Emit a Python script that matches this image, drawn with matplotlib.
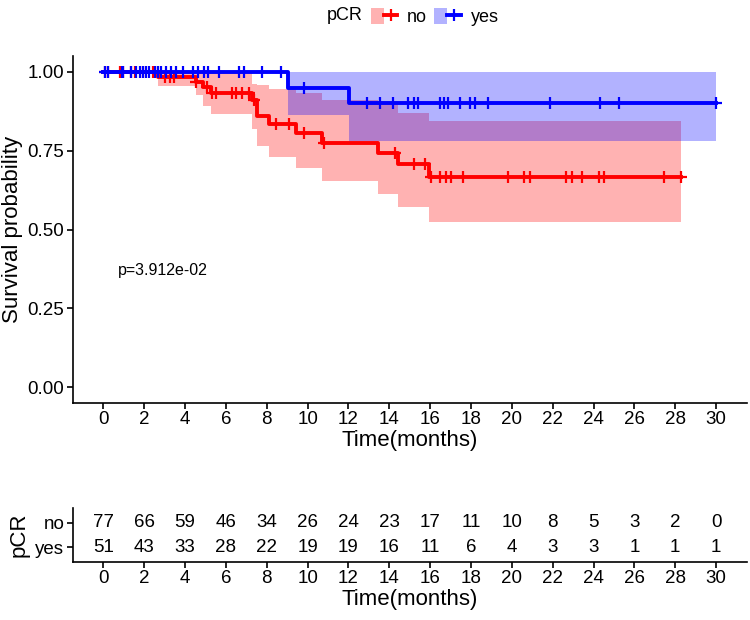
import numpy as np
import matplotlib
matplotlib.use("Agg")
import matplotlib.pyplot as plt
from matplotlib.patches import Patch
from matplotlib.lines import Line2D
from matplotlib.legend_handler import HandlerTuple

plt.rcParams['font.family'] = ['Liberation Sans', 'DejaVu Sans']

# pCR = no : event times, KM estimate and 95% band
t_no = [2.67, 4.54, 4.86, 5.27, 7.30, 7.54, 8.11, 9.41, 10.71, 13.43, 14.41, 15.95]
s_no = [0.984, 0.968, 0.951, 0.934, 0.91, 0.859, 0.833, 0.805, 0.775, 0.743, 0.707, 0.667]
lo_no = [0.954, 0.925, 0.891, 0.866, 0.82, 0.764, 0.729, 0.695, 0.655, 0.614, 0.571, 0.523]
up_no = [1.0, 1.0, 1.0, 1.0, 0.962, 0.958, 0.946, 0.933, 0.912, 0.905, 0.868, 0.843]
cens_no = [0.07, 0.22, 0.8, 0.95, 1.37, 1.55, 1.94, 2.43, 2.51, 3.0, 3.24, 3.46, 4.54, 5.09,
           5.33, 5.51, 6.31, 6.5, 6.79, 7.13, 7.38, 8.44, 9.09, 9.81, 10.79, 14.28, 15.22,
           15.74, 16.06, 16.47, 16.8, 17.04, 17.61, 19.8, 20.61, 20.91, 22.64, 22.97, 23.46,
           24.27, 24.51, 27.43, 28.28]

# pCR = yes
t_yes = [9.05, 12.02]
s_yes = [0.95, 0.90]
lo_yes = [0.864, 0.782]
up_yes = [1.0, 1.0]
cens_yes = [0.07, 0.23, 0.89, 0.96, 1.37, 1.62, 1.78, 1.94, 2.1, 2.26, 2.51, 2.67, 2.83, 3.08,
            3.32, 3.57, 3.89, 4.37, 4.62, 4.94, 5.1, 5.67, 6.65, 6.89, 7.78, 8.68, 9.81, 12.9,
            13.55, 14.2, 14.93, 15.22, 15.42, 16.47, 16.68, 16.88, 17.45, 17.95, 18.2, 18.83,
            21.88, 24.33, 25.26, 30.0]

# number at risk table
risk_times = list(range(0, 31, 2))
risk_no = [77, 66, 59, 46, 34, 26, 24, 23, 17, 11, 10, 8, 5, 3, 2, 0]
risk_yes = [51, 43, 33, 28, 22, 19, 19, 16, 11, 6, 4, 3, 3, 1, 1, 1]

pval_text = "p=3.912e-02"

T = max(cens_yes)
xlim = (-0.05 * T, 1.05 * T)
LW, MS, MEW = 2.8, 8, 1.6

fig = plt.figure(figsize=(7.5, 6.2), dpi=100)
ax = fig.add_axes([72.7 / 750, 1 - 403 / 620, 674 / 750, 347 / 620])


def draw_group(times, surv, lo, up, cens, color):
    end = max(cens)
    x = [0] + times + [end]
    y = [1] + surv + [surv[-1]]
    ylo = [1] + lo + [lo[-1]]
    yup = [1] + up + [up[-1]]
    ax.fill_between(x, ylo, yup, step='post', color=color, alpha=0.3, lw=0)
    ax.step(x, y, where='post', color=color, lw=LW)
    idx = np.searchsorted(times, cens, side='right')
    sc = np.array([1] + surv)[idx]
    ax.plot(cens, sc, ls='none', marker='+', ms=MS, mew=MEW, color=color)


draw_group(t_no, s_no, lo_no, up_no, cens_no, '#FF0000')
draw_group(t_yes, s_yes, lo_yes, up_yes, cens_yes, '#0000FF')

ax.text(0.7, 0.37, pval_text, fontsize=11.5, ha='left', va='center')

ax.set_xlim(xlim)
ax.set_ylim(-0.05, 1.05)
ax.set_xticks(risk_times)
ax.set_yticks([0, 0.25, 0.5, 0.75, 1.0])
ax.set_yticklabels(['0.00', '0.25', '0.50', '0.75', '1.00'])
ax.set_xlabel('Time(months)', fontsize=16, labelpad=1)
ax.set_ylabel('Survival probability', fontsize=16, labelpad=3)

# legend on top
h_no = (Patch(facecolor='#FF0000', alpha=0.3, lw=0),
        Line2D([], [], color='#FF0000', lw=LW, marker='+', ms=MS, mew=MEW))
h_yes = (Patch(facecolor='#0000FF', alpha=0.3, lw=0),
         Line2D([], [], color='#0000FF', lw=LW, marker='+', ms=MS, mew=MEW))
fig.text(345 / 750, 1 - 15 / 620, 'pCR', fontsize=13, ha='center', va='center')
fig.legend([h_no, h_yes], ['no', 'yes'], ncol=2, loc='center left',
           bbox_to_anchor=(371 / 750, 1 - 17 / 620), frameon=False, fontsize=13,
           handler_map={tuple: HandlerTuple(ndivide=None, pad=0)},
           handlelength=1.45, handleheight=0.95, handletextpad=0.55, columnspacing=0.4,
           borderpad=0, borderaxespad=0)

# risk table
ax2 = fig.add_axes([72.7 / 750, 1 - 562 / 620, 674 / 750, 54 / 620])
for tt, a, b in zip(risk_times, risk_no, risk_yes):
    ax2.text(tt, 2, str(a), ha='center', va='center', fontsize=13.5)
    ax2.text(tt, 1, str(b), ha='center', va='center', fontsize=13.5)
ax2.set_xlim(xlim)
ax2.set_ylim(0.4, 2.6)
ax2.set_xticks(risk_times)
ax2.set_yticks([1, 2])
ax2.set_yticklabels(['yes', 'no'])
ax2.get_yticklabels()[0].set_color('#0000FF')
ax2.get_yticklabels()[1].set_color('#FF0000')
ax2.set_xlabel('Time(months)', fontsize=16, labelpad=1)
ax2.set_ylabel('pCR', fontsize=16, labelpad=4)

for a in [ax, ax2]:
    a.spines['top'].set_visible(False)
    a.spines['right'].set_visible(False)
    a.spines['left'].set_linewidth(1.2)
    a.spines['bottom'].set_linewidth(1.2)
    a.tick_params(direction='out', length=4, width=1.2, labelsize=13.5, colors='black', pad=2)

fig.savefig('out.png', dpi=100)
